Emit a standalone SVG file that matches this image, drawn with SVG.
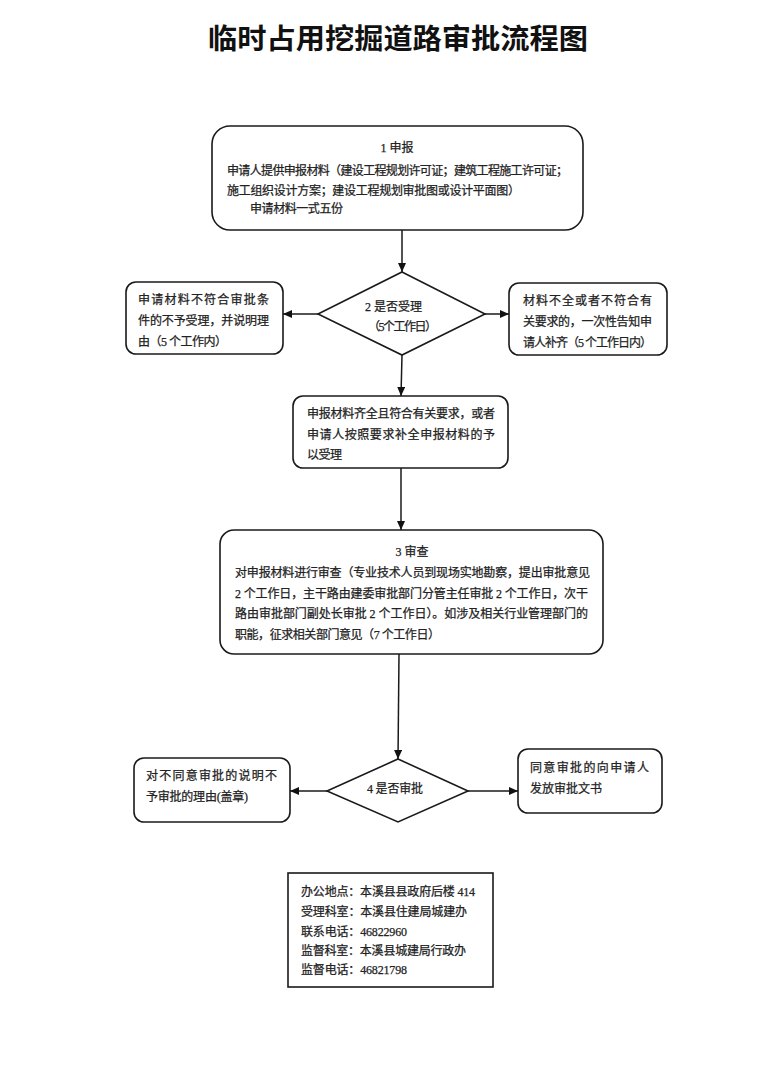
<svg xmlns="http://www.w3.org/2000/svg" width="778" height="1091" viewBox="0 0 778 1091">
<defs>
<marker id="arr" markerUnits="userSpaceOnUse" markerWidth="10" markerHeight="8" refX="9" refY="4" orient="auto">
<path d="M0,0 L9,4 L0,8 Z" fill="#111"/>
</marker>
<style>
.box{fill:none;stroke:#1a1a1a;stroke-width:1.6}
.t{font-family:"Liberation Serif","Noto Sans CJK SC",serif;font-size:12px;fill:#222;font-weight:normal;stroke:#222;stroke-width:0.25}
.title{font-family:"Noto Sans CJK SC","Liberation Sans",sans-serif;font-size:28px;font-weight:bold;fill:#111}
.c{fill:none;stroke:#1a1a1a;stroke-width:1.5;marker-end:url(#arr)}
</style>
</defs>
<rect width="778" height="1091" fill="#ffffff"/>
<text class="title" x="208" y="49" textLength="380" lengthAdjust="spacingAndGlyphs">临时占用挖掘道路审批流程图</text>

<g id="connectors">
<line class="c" x1="402" y1="230" x2="402" y2="272"/>
<line class="c" x1="318" y1="314" x2="283" y2="314"/>
<line class="c" x1="485" y1="314" x2="509" y2="314"/>
<line class="c" x1="402" y1="355" x2="401" y2="396"/>
<line class="c" x1="401" y1="468" x2="401" y2="530"/>
<line class="c" x1="399" y1="654" x2="398" y2="759"/>
<line class="c" x1="327" y1="791" x2="290" y2="791"/>
<line class="c" x1="468" y1="791" x2="518" y2="791"/>
</g>

<g id="n1">
<rect class="box" x="212" y="126" width="371" height="104" rx="18"/>
<text class="t" x="397" y="152" text-anchor="middle">1 申报</text>
<text class="t" x="227" y="175" textLength="341" lengthAdjust="spacing">申请人提供申报材料（建设工程规划许可证；建筑工程施工许可证；</text>
<text class="t" x="227" y="195" textLength="293" lengthAdjust="spacing">施工组织设计方案；建设工程规划审批图或设计平面图）</text>
<text class="t" x="250" y="213" textLength="93" lengthAdjust="spacing">申请材料一式五份</text>
</g>

<g id="n2">
<polygon class="box" points="402,272 485,314 402,355 318,314"/>
<text class="t" x="365" y="311" textLength="57" lengthAdjust="spacing">2 是否受理</text>
<text class="t" x="368" y="331" textLength="69" lengthAdjust="spacing">（5个工作日）</text>
</g>

<g id="n2l">
<rect class="box" x="126" y="282" width="157" height="72" rx="10"/>
<text class="t" x="138" y="304" textLength="131" lengthAdjust="spacing">申请材料不符合审批条</text>
<text class="t" x="138" y="325" textLength="131" lengthAdjust="spacing">件的不予受理，并说明理</text>
<text class="t" x="138" y="346" textLength="89" lengthAdjust="spacing">由（5 个工作内）</text>
</g>

<g id="n2r">
<rect class="box" x="509" y="283" width="158" height="72" rx="10"/>
<text class="t" x="523" y="305" textLength="129" lengthAdjust="spacing">材料不全或者不符合有</text>
<text class="t" x="523" y="326" textLength="129" lengthAdjust="spacing">关要求的，一次性告知申</text>
<text class="t" x="523" y="347" textLength="129" lengthAdjust="spacing">请人补齐（5 个工作日内）</text>
</g>

<g id="n_accept">
<rect class="box" x="293" y="396" width="215" height="72" rx="10"/>
<text class="t" x="307" y="418" textLength="188" lengthAdjust="spacing">申报材料齐全且符合有关要求，或者</text>
<text class="t" x="307" y="439" textLength="188" lengthAdjust="spacing">申请人按照要求补全申报材料的予</text>
<text class="t" x="307" y="459" textLength="35" lengthAdjust="spacing">以受理</text>
</g>

<g id="n3">
<rect class="box" x="220" y="530" width="383" height="124" rx="14"/>
<text class="t" x="412" y="556" text-anchor="middle">3 审查</text>
<text class="t" x="235" y="577" textLength="355" lengthAdjust="spacing">对申报材料进行审查（专业技术人员到现场实地勘察，提出审批意见</text>
<text class="t" x="235" y="598" textLength="353" lengthAdjust="spacing">2 个工作日，主干路由建委审批部门分管主任审批 2 个工作日，次干</text>
<text class="t" x="235" y="618" textLength="353" lengthAdjust="spacing">路由审批部门副处长审批 2 个工作日）。如涉及相关行业管理部门的</text>
<text class="t" x="235" y="639" textLength="205" lengthAdjust="spacing">职能，征求相关部门意见（7 个工作日）</text>
</g>

<g id="n4">
<polygon class="box" points="398,759 468,791 398,822 327,791"/>
<text class="t" x="367" y="793" textLength="56" lengthAdjust="spacing">4 是否审批</text>
</g>

<g id="n4l">
<rect class="box" x="134" y="758" width="156" height="64" rx="10"/>
<text class="t" x="146" y="780" textLength="131" lengthAdjust="spacing">对不同意审批的说明不</text>
<text class="t" x="146" y="801" textLength="102" lengthAdjust="spacing">予审批的理由(盖章)</text>
</g>

<g id="n4r">
<rect class="box" x="518" y="749" width="144" height="64" rx="10"/>
<text class="t" x="530" y="772" textLength="119" lengthAdjust="spacing">同意审批的向申请人</text>
<text class="t" x="530" y="793" textLength="72" lengthAdjust="spacing">发放审批文书</text>
</g>

<g id="info">
<rect class="box" x="288" y="873" width="205" height="114"/>
<text class="t" x="301" y="896" textLength="174" lengthAdjust="spacing">办公地点：本溪县县政府后楼 414</text>
<text class="t" x="301" y="916" textLength="166" lengthAdjust="spacing">受理科室：本溪县住建局城建办</text>
<text class="t" x="301" y="936" textLength="106" lengthAdjust="spacing">联系电话：46822960</text>
<text class="t" x="301" y="955" textLength="165" lengthAdjust="spacing">监督科室：本溪县城建局行政办</text>
<text class="t" x="301" y="974" textLength="106" lengthAdjust="spacing">监督电话：46821798</text>
</g>
</svg>
